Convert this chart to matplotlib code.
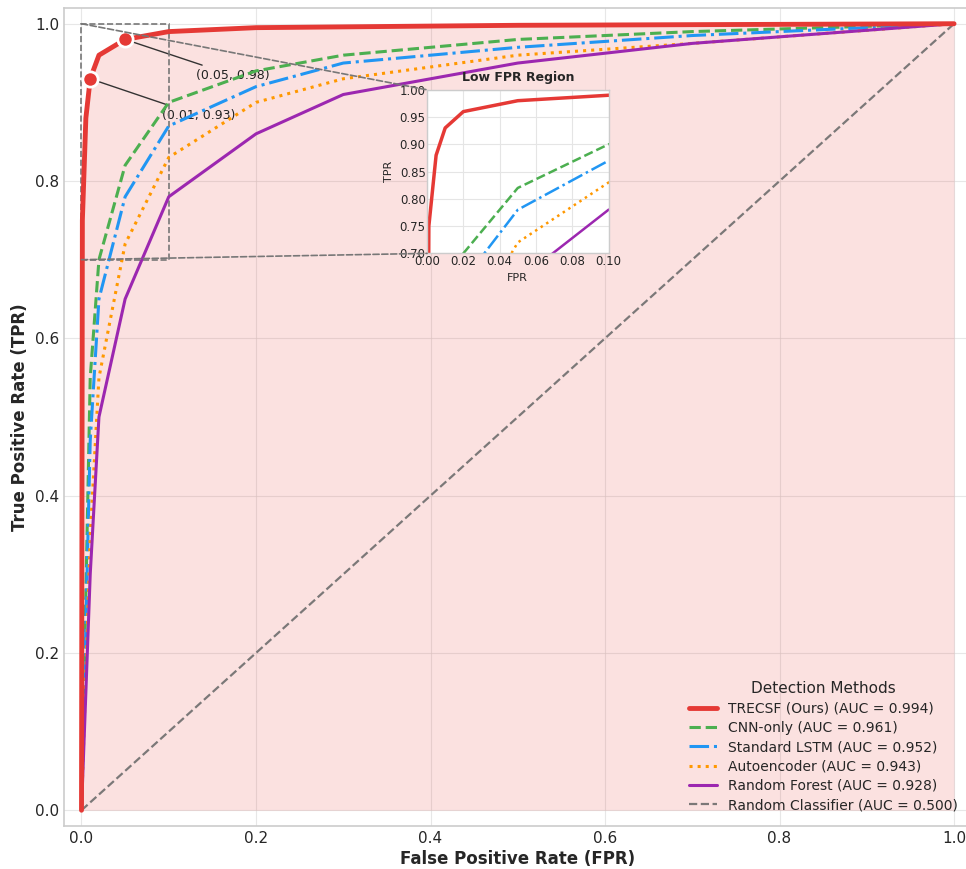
import numpy as np
import matplotlib.pyplot as plt
from matplotlib.patches import Rectangle, ConnectionPatch

# ROC points for each detector
fpr_trecsf = [0.0, 0.001, 0.005, 0.01, 0.02, 0.05, 0.1, 0.2, 0.5, 1.0]
tpr_trecsf = [0.0, 0.75, 0.88, 0.93, 0.96, 0.98, 0.99, 0.995, 0.998, 1.0]

fpr_base = [0.0, 0.01, 0.02, 0.05, 0.1, 0.2, 0.3, 0.5, 0.7, 1.0]
tpr_cnn = [0.0, 0.55, 0.70, 0.82, 0.90, 0.94, 0.96, 0.98, 0.99, 1.0]
tpr_lstm = [0.0, 0.47, 0.65, 0.78, 0.87, 0.92, 0.95, 0.97, 0.985, 1.0]
tpr_ae = [0.0, 0.35, 0.55, 0.72, 0.83, 0.90, 0.93, 0.96, 0.975, 1.0]
tpr_rf = [0.0, 0.30, 0.50, 0.65, 0.78, 0.86, 0.91, 0.95, 0.975, 1.0]

labels = ['TRECSF (Ours) (AUC = 0.994)', 'CNN-only (AUC = 0.961)',
          'Standard LSTM (AUC = 0.952)', 'Autoencoder (AUC = 0.943)',
          'Random Forest (AUC = 0.928)', 'Random Classifier (AUC = 0.500)']

# highlighted operating points
op_points = [(0.01, 0.93), (0.05, 0.98)]

c_red, c_green, c_blue = '#E53935', '#4CAF50', '#2196F3'
c_orange, c_purple = '#FF9800', '#9C27B0'

plt.style.use('seaborn-v0_8-whitegrid')
plt.rcParams['font.family'] = ['DejaVu Sans']
fig = plt.figure(figsize=(9.66, 8.69), dpi=100)
ax = fig.add_axes([0.0663, 0.0495, 0.9394, 0.9413])

ax.fill_between(fpr_trecsf, tpr_trecsf, color=c_red, alpha=0.15, lw=0)
ax.plot(fpr_trecsf, tpr_trecsf, color=c_red, lw=3.5, label=labels[0], zorder=6)
ax.plot(fpr_base, tpr_cnn, color=c_green, lw=2.2, ls='--', label=labels[1], zorder=5)
ax.plot(fpr_base, tpr_lstm, color=c_blue, lw=2.2, ls='-.', label=labels[2], zorder=5)
ax.plot(fpr_base, tpr_ae, color=c_orange, lw=2.2, ls=':', label=labels[3], zorder=5)
ax.plot(fpr_base, tpr_rf, color=c_purple, lw=2.2, ls='-', label=labels[4], zorder=5)
ax.plot([0, 1], [0, 1], color='#6d6d6d', lw=1.6, ls='--', alpha=0.9, label=labels[5])

# mark the operating points
for (px, py), off in zip(op_points, [(0.092, 0.879), (0.131, 0.93)]):
    ax.plot(px, py, 'o', color=c_red, ms=11, mec='white', mew=2, zorder=8)
    ax.annotate(f'({px:.2f}, {py:.2f})', xy=(px, py), xytext=off,
                fontsize=9, color='#222222',
                arrowprops=dict(arrowstyle='-', color='#333333', lw=1))

ax.set_xlim(-0.02, 1.02)
ax.set_ylim(-0.02, 1.02)
ax.set_xticks(np.arange(0, 1.01, 0.2))
ax.set_yticks(np.arange(0, 1.01, 0.2))
ax.tick_params(labelsize=11, colors='#262626')
ax.grid(True, color='#d8d8d8', alpha=0.6)
for s in ax.spines.values():
    s.set_color('#cccccc')
    s.set_linewidth(1.2)
ax.set_xlabel('False Positive Rate (FPR)', fontsize=12, fontweight='bold', labelpad=3)
ax.set_ylabel('True Positive Rate (TPR)', fontsize=12, fontweight='bold', labelpad=4)

leg = ax.legend(loc='lower right', title='Detection Methods', fontsize=10,
                title_fontsize=11, frameon=False, borderaxespad=0.6,
                labelspacing=0.38)

# zoomed view of the low false positive range
axins = ax.inset_axes([0.4, 0.7, 0.2, 0.2])
axins.set_facecolor('white')
axins.plot(fpr_trecsf, tpr_trecsf, color=c_red, lw=2.5)
axins.plot(fpr_base, tpr_cnn, color=c_green, lw=1.8, ls='--')
axins.plot(fpr_base, tpr_lstm, color=c_blue, lw=1.8, ls='-.')
axins.plot(fpr_base, tpr_ae, color=c_orange, lw=1.8, ls=':')
axins.plot(fpr_base, tpr_rf, color=c_purple, lw=1.8)
axins.set_xlim(0, 0.1)
axins.set_ylim(0.7, 1.0)
axins.set_xticks(np.arange(0, 0.101, 0.02))
axins.set_yticks(np.arange(0.7, 1.001, 0.05))
axins.tick_params(labelsize=8.5, colors='#262626', pad=1)
axins.set_xlabel('FPR', fontsize=8)
axins.set_ylabel('TPR', fontsize=8)
axins.set_title('Low FPR Region', fontsize=9, fontweight='bold')
axins.grid(True, color='#e5e5e5')
for s in axins.spines.values():
    s.set_color('#cccccc')

ax.add_patch(Rectangle((0, 0.7), 0.1, 0.3, fill=False, ec='#777777',
                       ls='--', lw=1.2, zorder=4))
for y0, ya in [(1.0, 1), (0.7, 0)]:
    con = ConnectionPatch(xyA=(0, y0), coordsA=ax.transData,
                          xyB=(0, ya), coordsB=axins.transAxes,
                          color='#777777', ls='--', lw=1.2, zorder=4)
    fig.add_artist(con)

fig.savefig('out.png', dpi=100)
